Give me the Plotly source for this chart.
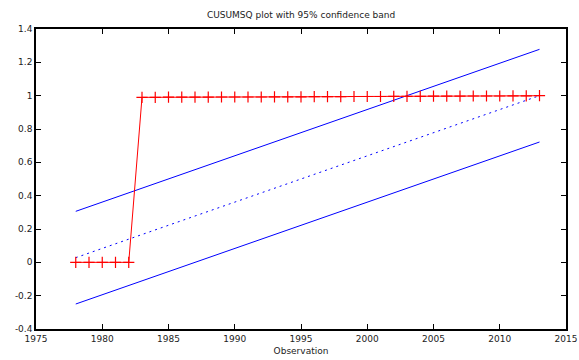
import plotly.graph_objects as go

years = list(range(1978, 2014))
cusumsq = [0.0, 0.0, 0.0, 0.0, 0.0,
           0.990, 0.990, 0.991, 0.991, 0.991, 0.991, 0.992, 0.992, 0.992, 0.992,
           0.993, 0.993, 0.993, 0.994, 0.994,
           0.994, 0.995, 0.995, 0.995, 0.996,
           0.996, 0.996, 0.997, 0.997, 0.997,
           0.998, 0.998, 0.998, 0.999, 0.999,
           1.000]
band_years = [1978, 2013]
band_mid = [0.028, 1.000]
band_upper = [0.306, 1.278]
band_lower = [-0.250, 0.722]

x_ticks = [1975, 1980, 1985, 1990, 1995, 2000, 2005, 2010, 2015]
y_ticks = [-0.4, -0.2, 0, 0.2, 0.4, 0.6, 0.8, 1, 1.2, 1.4]
y_tick_text = ["-0.4", "-0.2", "0", "0.2", "0.4", "0.6", "0.8", "1", "1.2", "1.4"]

FONT = "DejaVu Sans"
fig = go.Figure()
fig.add_trace(go.Scatter(x=band_years, y=band_upper, mode="lines",
                         line=dict(color="#0000ff", width=1), showlegend=False))
fig.add_trace(go.Scatter(x=band_years, y=band_lower, mode="lines",
                         line=dict(color="#0000ff", width=1), showlegend=False))
fig.add_trace(go.Scatter(x=band_years, y=band_mid, mode="lines",
                         line=dict(color="#0000ff", width=1, dash="2px,4px"), showlegend=False))
fig.add_trace(go.Scatter(x=years, y=cusumsq, mode="lines+markers",
                         line=dict(color="#ff0000", width=1),
                         marker=dict(symbol="cross-thin", size=8,
                                     line=dict(color="#ff0000", width=1.2)),
                         showlegend=False))

axis_common = dict(showgrid=False, zeroline=False, showline=True, linecolor="black",
                   linewidth=1.5, mirror="ticks", ticks="inside", ticklen=5,
                   tickcolor="black", tickwidth=1, automargin=False,
                   tickfont=dict(family=FONT, size=9, color="#222"))
fig.update_xaxes(range=[1975, 2015], tickvals=x_ticks, ticktext=[str(v) for v in x_ticks],
                 title=dict(text="Observation", font=dict(family=FONT, size=9, color="#222"),
                            standoff=5),
                 **axis_common)
fig.update_yaxes(range=[-0.4, 1.4], tickvals=y_ticks, ticktext=y_tick_text, **axis_common)
fig.update_layout(
    width=579, height=360,
    margin=dict(l=36, r=13, t=29, b=31),
    plot_bgcolor="white", paper_bgcolor="white",
    title=dict(text="CUSUMSQ plot with 95% confidence band",
               font=dict(family=FONT, size=9, color="#222"),
               x=0.52, xanchor="center", y=0.96, yanchor="middle"),
)
fig.write_html("out.html", config={"displayModeBar": False},
               post_script="document.body.style.margin='0';document.body.style.overflow='hidden';")
